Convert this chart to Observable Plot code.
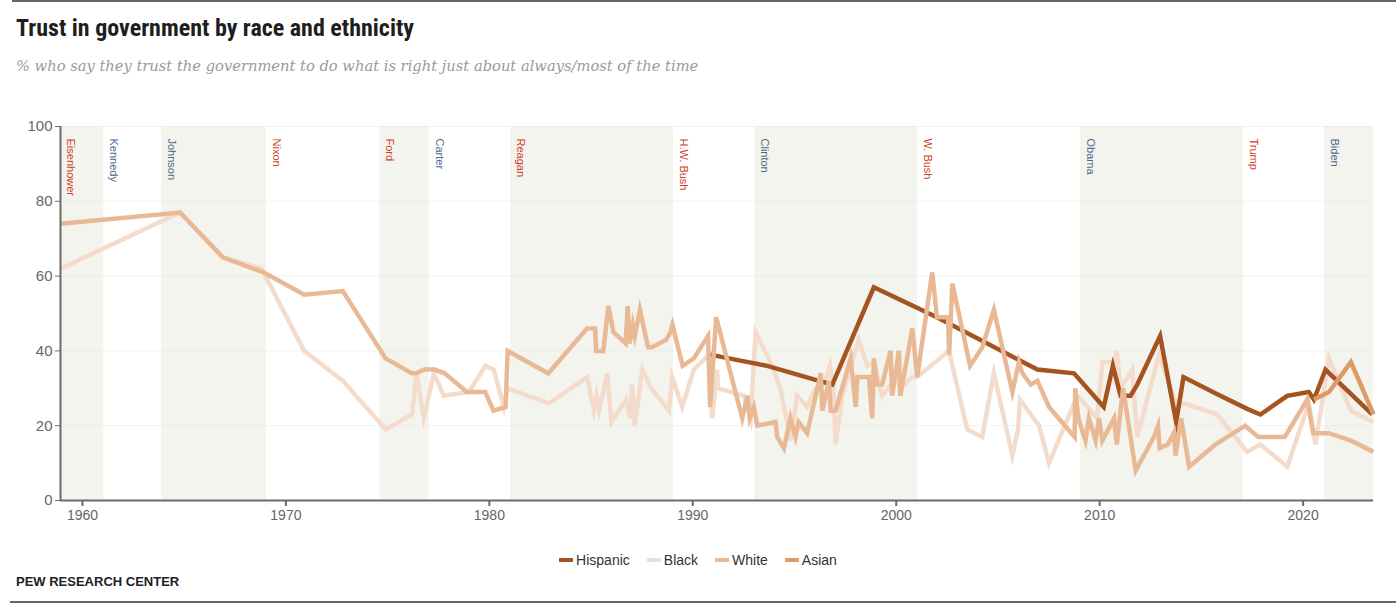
<!DOCTYPE html>
<html>
<head>
<meta charset="utf-8">
<script src="https://cdn.jsdelivr.net/npm/d3@7"></script>
<script src="https://cdn.jsdelivr.net/npm/@observablehq/plot@0.6"></script>
<style>
  html, body { margin: 0; padding: 0; background: #fff; }
  body { width: 1396px; height: 604px; position: relative; overflow: hidden; font-family: "Liberation Sans", Arial, sans-serif; }
  #topRule { position: absolute; left: 12px; right: 0; top: 0; height: 2px; background: #666; }
  #title { position: absolute; left: 16px; top: 14px; font-family: "Liberation Sans Narrow", "Roboto Condensed", "Liberation Sans", sans-serif; font-weight: bold; font-size: 24px; color: #1e1e1e; white-space: nowrap; }
  #subtitle { position: absolute; left: 16px; top: 57px; font-family: "DejaVu Serif", serif; font-style: italic; font-size: 14.7px; color: #9a9a9a; white-space: nowrap; }
  #chart { position: absolute; left: 0; top: 100px; }
  #chart g[aria-label="x-axis tick label"] { font-size: 14px !important; }
  #chart g[aria-label="y-axis tick label"] { font-size: 15px !important; }
  #legend { position: absolute; left: 0; width: 1396px; top: 552px; display: flex; justify-content: center; gap: 17px; font-family: "Liberation Sans Narrow", "Liberation Sans", sans-serif; font-size: 14px; color: #333; }
  .item { display: flex; align-items: center; gap: 3px; }
  .sw { width: 14px; height: 4px; display: inline-block; }
  #source { position: absolute; left: 16px; top: 574px; font-family: "Liberation Sans Narrow", "Liberation Sans", sans-serif; font-weight: bold; font-size: 13px; color: #222; }
  #bottomRule { position: absolute; left: 10px; right: 0; top: 601px; height: 2px; background: #666; }
</style>
</head>
<body>
<div id="topRule"></div>
<div id="title">Trust in government by race and ethnicity</div>
<div id="subtitle">% who say they trust the government to do what is right just about always/most of the time</div>
<div id="chart"></div>
<div id="legend"></div>
<div id="source">PEW RESEARCH CENTER</div>
<div id="bottomRule"></div>
<script>
// ---------- data ----------
const seriesNames = ["Hispanic", "Black", "White", "Asian"];
const seriesColors = ["#a5531f", "#f4dccc", "#e9b995", "#dc9a66"];

const hispanicYears  = [1990.84, 1993.66, 1996.2, 1996.86, 1998.9, 2002.0, 2006.94, 2008.74, 2010.2, 2010.65, 2011.03, 2011.52, 2011.85, 2012.97, 2013.76, 2014.12, 2015.76, 2017.25, 2017.9, 2019.22, 2020.28, 2020.53, 2021.1, 2023.4];
const hispanicValues = [39, 36, 32, 31, 57, 49, 35, 34, 25, 36, 28, 28, 31, 44, 21, 33, 28.5, 24.5, 23, 28, 29, 27, 35, 23];

const blackYears = [1958.92, 1964.8, 1966.9, 1968.8, 1970.9, 1972.8, 1974.9, 1976.2, 1976.42, 1976.78, 1977.27, 1977.76, 1978.99, 1979.81, 1980.22, 1980.71, 1980.88, 1982.93, 1984.81, 1985.14, 1985.27, 1985.39, 1985.8, 1986.0, 1986.73, 1986.91, 1987.02, 1987.14, 1987.52, 1987.96, 1988.83, 1988.99, 1989.48, 1990.05, 1990.79, 1990.95, 1991.2, 1991.23, 1992.52, 1992.84, 1993.09, 1993.9, 1994.3, 1994.64, 1994.8, 1995.13, 1995.62, 1996.04, 1996.53, 1996.74, 1996.9, 1997.02, 1997.35, 1998.15, 1998.58, 1998.9, 1999.31, 1999.89, 2000.38, 2000.79, 2001.03, 2001.69, 2002.59, 2003.49, 2004.23, 2004.8, 2005.71, 2005.99, 2006.08, 2007.02, 2007.51, 2008.9, 2009.88, 2010.13, 2010.71, 2010.84, 2011.03, 2011.6, 2011.85, 2012.91, 2013.82, 2014.14, 2015.78, 2017.25, 2017.9, 2019.22, 2020.28, 2020.61, 2021.27, 2022.35, 2023.46];
const blackValues = [62, 77, 65, 62, 40, 32, 19, 23, 34, 22, 34, 28, 29, 36, 35, 25, 30, 26, 33, 24, 28, 24, 34, 21, 27, 22, 31, 20, 35, 30, 24, 33, 25, 35, 39, 22, 35, 30, 28, 22, 45, 36, 30, 21, 16, 28, 25, 30, 32, 36, 31, 15, 28, 43, 36, 37, 28, 32, 31, 33, 33, 36, 40, 19, 17, 34, 12, 19, 27, 20, 10, 28, 22, 37, 37, 40, 30, 35, 17, 39, 25, 26, 23, 13, 15, 9, 26, 15, 38, 24, 21];

const whiteYears = [1958.92, 1964.8, 1966.9, 1968.9, 1970.9, 1972.8, 1974.9, 1976.2, 1976.4, 1976.8, 1977.3, 1977.8, 1978.9, 1979.8, 1980.2, 1980.8, 1980.9, 1982.9, 1984.8, 1985.2, 1985.25, 1985.6, 1985.85, 1986.1, 1986.7, 1986.8, 1986.9, 1987.05, 1987.15, 1987.4, 1987.8, 1988.0, 1988.7, 1988.9, 1989.0, 1989.5, 1990.05, 1990.75, 1990.85, 1991.15, 1992.43, 1992.68, 1992.8, 1993.0, 1993.17, 1994.07, 1994.15, 1994.48, 1994.8, 1995.05, 1995.2, 1995.62, 1996.29, 1996.37, 1996.69, 1996.78, 1997.02, 1997.76, 1998.01, 1998.09, 1998.66, 1998.82, 1998.9, 1999.07, 1999.31, 1999.72, 1999.8, 2000.13, 2000.2, 2000.79, 2001.03, 2001.77, 2002.0, 2002.55, 2002.6, 2002.76, 2003.63, 2004.23, 2004.8, 2005.71, 2006.03, 2006.2, 2006.61, 2006.94, 2007.51, 2008.77, 2008.8, 2008.95, 2009.3, 2009.47, 2009.8, 2009.97, 2010.13, 2010.71, 2010.84, 2011.15, 2011.77, 2012.67, 2012.87, 2012.95, 2013.35, 2013.65, 2013.73, 2014.0, 2014.4, 2015.7, 2017.15, 2017.8, 2019.1, 2020.2, 2020.5, 2021.27, 2022.35, 2023.46];
const whiteValues = [74, 77, 65, 61, 55, 56, 38, 34, 34, 35, 35, 34, 29, 29, 24, 25, 40, 34, 46, 46, 40, 40, 52, 45, 42, 52, 42, 47, 44, 51, 41, 41, 43, 45, 47, 36, 38, 44, 25, 49, 22, 28, 22, 25, 20, 21, 17, 14, 22, 17, 21, 18, 34, 24, 32, 24, 24, 38, 25, 33, 33, 22, 38, 31, 31, 40, 28, 40, 28, 46, 33, 61, 49, 49, 39, 58, 36, 41, 51, 29, 37, 34, 31, 32, 25, 17, 30, 22, 16, 22, 16, 22, 16, 22, 15, 30, 8, 17, 20, 14, 15, 18, 12, 22, 9, 15, 20, 17, 17, 27, 18, 18, 16, 13];

const asianYears  = [2020.53, 2021.27, 2022.35, 2023.46];
const asianValues = [27, 29, 37, 23];

const presidents = ["Eisenhower", "Kennedy", "Johnson", "Nixon", "Ford", "Carter", "Reagan", "H.W. Bush", "Clinton", "W. Bush", "Obama", "Trump", "Biden"];
const presStarts = [1958.92, 1961.05, 1963.89, 1969.05, 1974.61, 1977.05, 1981.05, 1989.05, 1993.05, 2001.05, 2009.05, 2017.05, 2021.05];
const presParty  = ["R", "D", "D", "R", "R", "D", "R", "R", "D", "R", "D", "R", "D"];

const xTicks = [1960, 1970, 1980, 1990, 2000, 2010, 2020];
const yTicks = [0, 20, 40, 60, 80, 100];
const xDomain = [1958.92, 2023.46];

// ---------- build ----------
const toRows = (name, ys, vs) => ys.map((yr, i) => ({ series: name, year: yr, value: vs[i] }));
const rows = {
  Hispanic: toRows("Hispanic", hispanicYears, hispanicValues),
  Black: toRows("Black", blackYears, blackValues),
  White: toRows("White", whiteYears, whiteValues),
  Asian: toRows("Asian", asianYears, asianValues)
};
const colorOf = Object.fromEntries(seriesNames.map((n, i) => [n, seriesColors[i]]));

const bands = presidents.map((name, i) => ({
  name, start: presStarts[i], end: i < presidents.length - 1 ? presStarts[i + 1] : xDomain[1],
  party: presParty[i], shaded: i % 2 === 0
}));

const lineOpts = (name) => ({ x: "year", y: "value", stroke: colorOf[name], strokeWidth: 4.5, strokeLinejoin: "miter", strokeMiterlimit: 6, strokeLinecap: "butt" });
const drawOrder = ["Black", "Hispanic", "White", "Asian"];

const chart = Plot.plot({
  width: 1396,
  height: 440,
  marginLeft: 60,
  marginRight: 23,
  marginTop: 26,
  marginBottom: 40,
  style: { fontFamily: "'Liberation Sans', Arial, sans-serif", fontSize: "14px", color: "#666", background: "transparent" },
  x: { domain: xDomain, label: null },
  y: { domain: [0, 100], label: null },
  marks: [
    Plot.rect(bands.filter(d => d.shaded), { x1: "start", x2: "end", y1: 0, y2: 100, fill: "#f4f4ef" }),
    Plot.gridY(yTicks.filter(t => t > 0), { stroke: "#e6e6e6", strokeOpacity: 0.5 }),
    Plot.text(bands, { x: "start", y: 100, text: "name", rotate: 90, textAnchor: "start", dx: 10, dy: 12, fontSize: 11, fill: d => d.party === "R" ? "#cf3e25" : "#4a6a8c" }),
    ...drawOrder.map(n => Plot.line(rows[n], lineOpts(n))),
    Plot.axisY({ ticks: yTicks, tickSize: 5, tickPadding: 3, stroke: "#6f6a66", fontSize: 15 }),
    Plot.axisX({ ticks: xTicks, tickFormat: d => String(d), tickSize: 6, tickPadding: 4, stroke: "#6f6a66", strokeWidth: 2, fontSize: 14 }),
    Plot.ruleX([xDomain[0]], { y1: 0, y2: 100, stroke: "#6f6a66", strokeWidth: 2 }),
    Plot.ruleY([0], { stroke: "#6f6a66", strokeWidth: 2 })
  ]
});
document.getElementById("chart").appendChild(chart);

// legend
const legend = document.getElementById("legend");
seriesNames.forEach((n, i) => {
  const item = document.createElement("div");
  item.className = "item";
  const sw = document.createElement("span");
  sw.className = "sw";
  sw.style.background = seriesColors[i];
  const lab = document.createElement("span");
  lab.textContent = n;
  item.appendChild(sw);
  item.appendChild(lab);
  legend.appendChild(item);
});
</script>
</body>
</html>
